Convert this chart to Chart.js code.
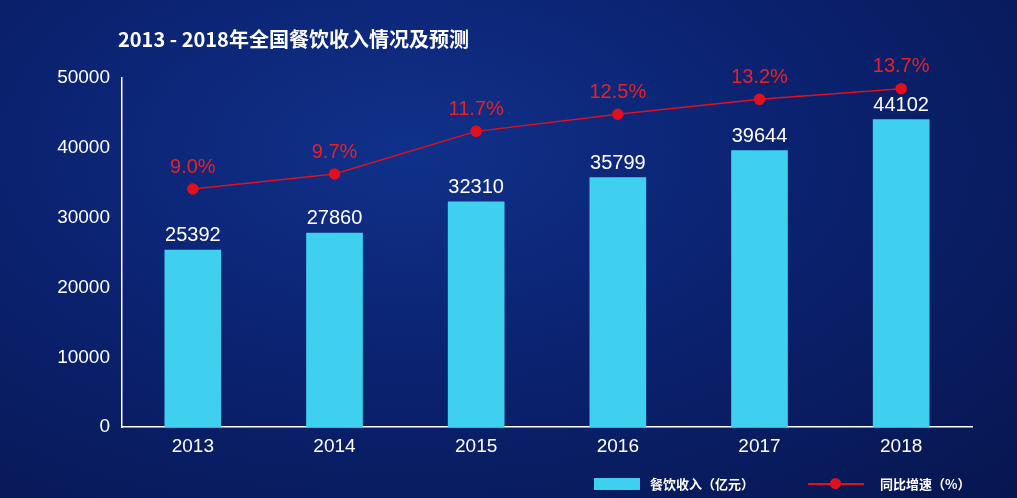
<!DOCTYPE html>
<html><head><meta charset="utf-8">
<script src="https://cdn.jsdelivr.net/npm/chart.js@4"></script>
<style>
html,body{margin:0;padding:0;}
body{width:1017px;height:498px;overflow:hidden;background:radial-gradient(ellipse at 40% 30%,#10318a 0%,#0b2270 45%,#071650 100%);font-family:"Noto Sans CJK SC","Noto Sans",sans-serif;position:relative;}
#title{position:absolute;left:118px;top:24px;color:#fff;font-weight:bold;font-size:20px;}
#wrap{position:absolute;left:0;top:0;width:1017px;height:498px;}
.lg{position:absolute;top:474px;color:#fff;font-size:13px;font-weight:bold;}
</style></head><body>
<div id="wrap"><canvas id="c" width="1017" height="498"></canvas></div>
<div id="title">2013 - 2018年全国餐饮收入情况及预测</div>
<div style="position:absolute;left:594px;top:478px;width:46px;height:12px;background:#3fd0f0"></div>
<div class="lg" style="left:650px">餐饮收入（亿元）</div>
<div style="position:absolute;left:808px;top:483px;width:56px;height:2px;background:#e0101e"></div>
<div style="position:absolute;left:830px;top:478px;width:11px;height:11px;border-radius:50%;background:#e0101e"></div>
<div class="lg" style="left:880px">同比增速（%）</div>
<script>
const categories=['2013','2014','2015','2016','2017','2018'];
const revenue=[25392,27860,32310,35799,39644,44102];
const growth=[9.0,9.7,11.7,12.5,13.2,13.7];
const labelsPlugin={id:'lbl',afterDatasetsDraw(ch){
 const c=ch.ctx;c.save();c.textAlign='center';c.textBaseline='bottom';
 ch.getDatasetMeta(0).data.forEach((b,i)=>{c.fillStyle='#fff';c.font='20px "Liberation Sans",Arial';c.fillText(revenue[i],b.x,b.y-4);});
 ch.getDatasetMeta(1).data.forEach((p,i)=>{c.fillStyle='#e8202a';c.font='20px "Liberation Sans",Arial';c.fillText(growth[i].toFixed(1)+'%',p.x,p.y-12);});
 c.restore();}};
new Chart(document.getElementById('c'),{
 data:{labels:categories,datasets:[
  {type:'bar',data:revenue,backgroundColor:'#3fd0f0',barPercentage:0.4,categoryPercentage:1,yAxisID:'y',order:2},
  {type:'line',data:growth,borderColor:'#e0101e',borderWidth:1.5,pointBackgroundColor:'#e0101e',pointBorderColor:'#e0101e',pointRadius:5,yAxisID:'y2',order:1}
 ]},
 options:{responsive:false,animation:false,
  layout:{padding:{left:0,right:45,top:78,bottom:32}},
  plugins:{legend:{display:false},tooltip:{enabled:false}},
  scales:{
   x:{grid:{display:false,drawTicks:false},border:{color:'#fff',width:1.5},ticks:{color:'#fff',font:{size:19,family:'"Liberation Sans",Arial'},padding:8}},
   y:{min:0,max:50000,ticks:{stepSize:10000,color:'#fff',font:{size:19,family:'"Liberation Sans",Arial'},padding:4,callback:v=>String(v)},grid:{display:false,drawTicks:true,tickLength:8,tickColor:'#fff'},border:{color:'#fff',width:1.5},afterFit(s){s.width=122;}},
   y2:{display:false,min:-2.16,max:14.2}
  }},
 plugins:[labelsPlugin]
});
</script></body></html>
